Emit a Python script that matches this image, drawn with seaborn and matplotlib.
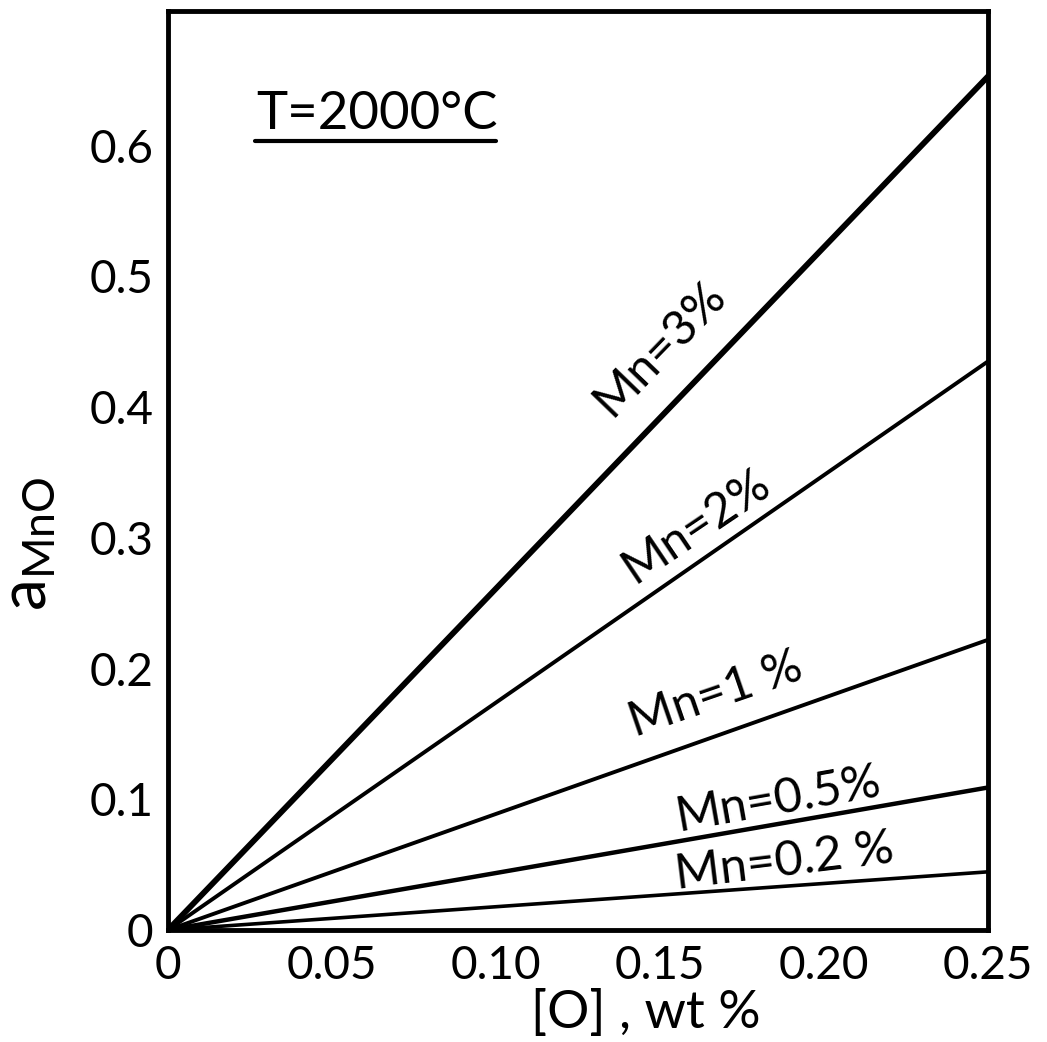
import numpy as np
import pandas as pd
import matplotlib
matplotlib.use("Agg")
import matplotlib.pyplot as plt
import seaborn as sns

# Data
o_wt = [0.0, 0.25]
series_names = ["Mn=3%", "Mn=2%", "Mn=1 %", "Mn=0.5%", "Mn=0.2 %"]
a_mno_3 = [0.0, 0.653]
a_mno_2 = [0.0, 0.435]
a_mno_1 = [0.0, 0.222]
a_mno_05 = [0.0, 0.109]
a_mno_02 = [0.0, 0.0445]
x_ticks = [0, 0.05, 0.10, 0.15, 0.20, 0.25]
x_ticklabels = ["0", "0.05", "0.10", "0.15", "0.20", "0.25"]
y_ticks = [0, 0.1, 0.2, 0.3, 0.4, 0.5, 0.6]
y_ticklabels = ["0", "0.1", "0.2", "0.3", "0.4", "0.5", "0.6"]

values = [a_mno_3, a_mno_2, a_mno_1, a_mno_05, a_mno_02]
rows = []
for name, vals in zip(series_names, values):
    for x, y in zip(o_wt, vals):
        rows.append({"O": x, "a": y, "series": name})
df = pd.DataFrame(rows)

sns.set_theme(style="white")
plt.rcParams["font.family"] = ["Lato", "DejaVu Sans"]

fig = plt.figure(figsize=(10.47, 10.42), dpi=100)
ax = fig.add_axes([168/1047, 1 - 930/1042, (988-168)/1047, (930-11)/1042])

widths = {"Mn=3%": 4.2, "Mn=2%": 2.8, "Mn=1 %": 2.8, "Mn=0.5%": 3.2, "Mn=0.2 %": 2.6}
for name in series_names:
    sns.lineplot(data=df[df["series"] == name], x="O", y="a", ax=ax,
                 color="black", lw=widths[name], legend=False)

ax.set_xlim(0, 0.25)
ax.set_ylim(0, 0.703)
ax.set_xticks(x_ticks)
ax.set_xticklabels(x_ticklabels)
ax.set_yticks(y_ticks)
ax.set_yticklabels(y_ticklabels)
ax.tick_params(axis="both", direction="inout", length=5, width=2.5, color="black",
               labelsize=33, labelcolor="black")
ax.tick_params(axis="x", pad=8)
ax.tick_params(axis="y", pad=8)
for s in ax.spines.values():
    s.set_color("black")
    s.set_linewidth(3.5)

ax.set_xlabel("[O] , wt %", fontsize=38, color="black")
ax.xaxis.set_label_coords(0.583, -0.064)
ax.set_ylabel(r"$\mathregular{a_{MnO}}$", fontsize=46, color="black")
ax.yaxis.set_label_coords(-0.134, 0.42)

# line labels
labels = [
    ("Mn=3%", 0.150, 0.445, 46),
    ("Mn=2%", 0.161, 0.309, 34),
    ("Mn=1 %", 0.167, 0.180, 19),
    ("Mn=0.5%", 0.186, 0.100, 10),
    ("Mn=0.2 %", 0.188, 0.052, 7),
]
for txt, x, y, rot in labels:
    ax.text(x, y, txt, fontsize=35, rotation=rot, ha="center", va="center",
            rotation_mode="anchor", color="black")

ax.text(0.108, 0.862, "T=2000°C", transform=ax.transAxes, fontsize=38,
        ha="left", va="bottom", color="black")
ax.plot([0.106, 0.40], [0.858, 0.858], transform=ax.transAxes, color="black", lw=3,
        solid_capstyle="round")

fig.savefig("out.png", dpi=100, facecolor="white")
